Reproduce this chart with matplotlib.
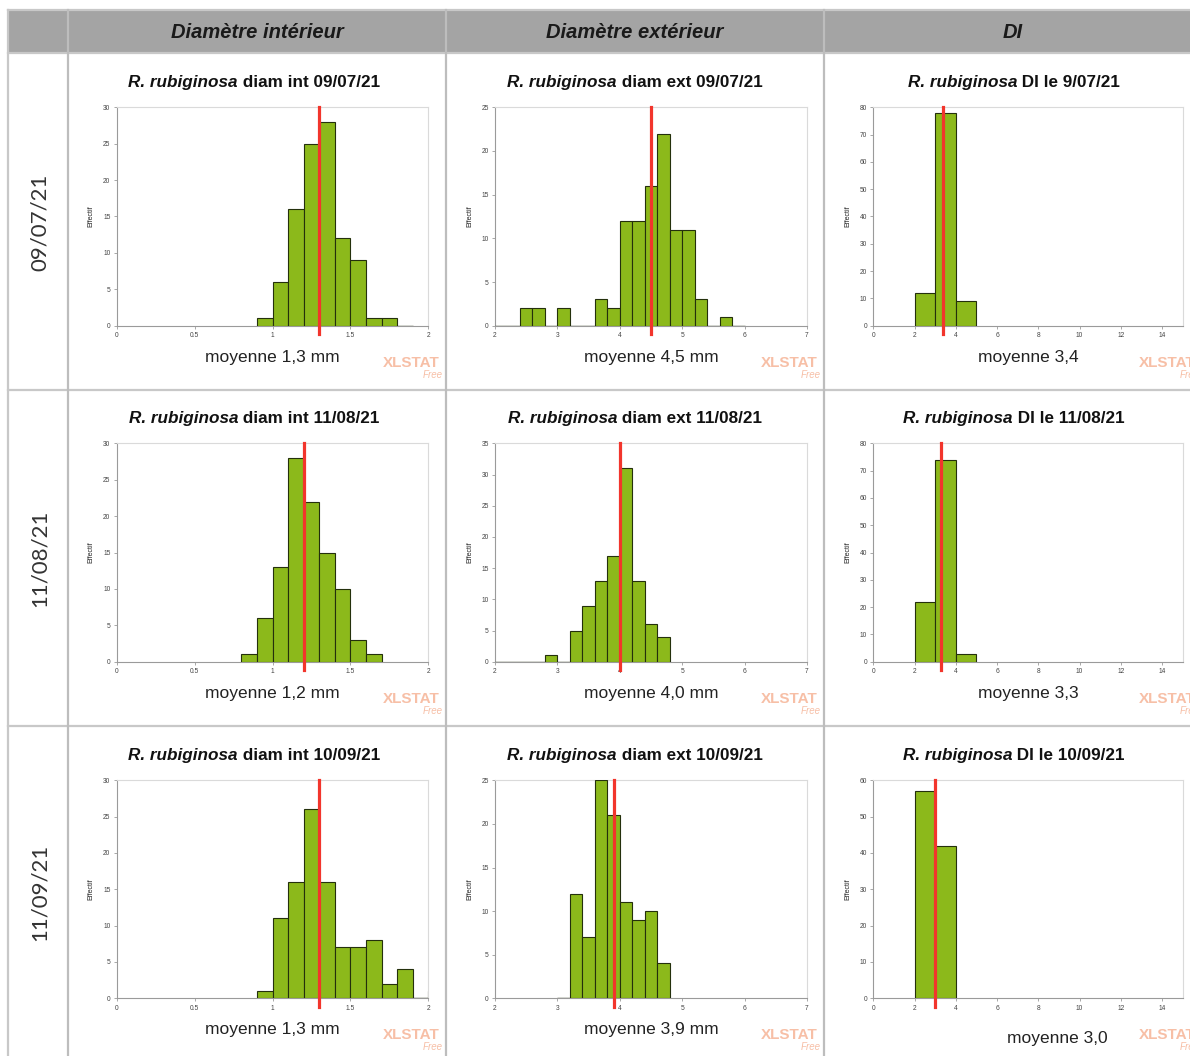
import matplotlib
matplotlib.use("Agg")
import matplotlib.pyplot as plt
from matplotlib.lines import Line2D
from matplotlib.patches import Rectangle
from matplotlib.transforms import Bbox
import numpy as np

# ---------------------------------------------------------------- data
column_headers = ["Diamètre intérieur", "Diamètre extérieur", "DI"]
row_dates = ["09/07/21", "11/08/21", "11/09/21"]

species = "R. rubiginosa"
int_titles = ["diam int 09/07/21", "diam int 11/08/21", "diam int 10/09/21"]
ext_titles = ["diam ext 09/07/21", "diam ext 11/08/21", "diam ext 10/09/21"]
di_titles = ["DI le 9/07/21", "DI le 11/08/21", "DI le 10/09/21"]

# inner diameter (mm), classes of 0.1 mm
int_bin_width = 0.1
int_first_edge = [0.9, 0.8, 0.9]
int_counts_0907 = [1, 6, 16, 25, 28, 12, 9, 1, 1, 0]
int_counts_1108 = [1, 6, 13, 28, 22, 15, 10, 3, 1]
int_counts_1009 = [1, 11, 16, 26, 16, 7, 7, 8, 2, 4, 0, 1]
int_means = [1.3, 1.2, 1.3]
int_ymax = [30, 30, 30]

# outer diameter (mm), classes of 0.2 mm
ext_bin_width = 0.2
ext_first_edge = [2.0, 2.0, 3.0]
ext_counts_0907 = [0, 0, 2, 2, 0, 2, 0, 0, 3, 2, 12, 12, 16, 22, 11, 11, 3, 0, 1, 0]
ext_counts_1108 = [0, 0, 0, 0, 1, 0, 5, 9, 13, 17, 31, 13, 6, 4]
ext_counts_1009 = [0, 12, 7, 25, 21, 11, 9, 10, 4]
ext_means = [4.5, 4.0, 3.9]
ext_ymax = [25, 35, 25]

# DI, classes of 1
di_bin_width = 1.0
di_first_edge = [2.0, 2.0, 2.0]
di_counts_0907 = [12, 78, 9]
di_counts_1108 = [22, 74, 3]
di_counts_1009 = [57, 42]
di_means = [3.4, 3.3, 3.0]
di_ymax = [80, 80, 60]

# ---------------------------------------------------------------- layout
W, H = 1190, 1056
fig = plt.figure(figsize=(W / 100, H / 100), dpi=100)
fig.patch.set_facecolor("white")
plt.rcParams["font.family"] = ["Liberation Sans", "DejaVu Sans"]

GREEN = "#8cb91b"
EDGE = "#24300c"
RED = "#f2352c"
GRID = "#c8c8c8"
WATER = "#f7bfa6"


def fx(px):
    return px / W


def fy(py):
    return 1 - py / H


# table: header band and cell borders
fig.add_artist(Rectangle((fx(8), fy(53)), fx(1190) - fx(8), fy(10) - fy(53),
                         transform=fig.transFigure, facecolor="#a4a4a4",
                         edgecolor="none", zorder=0))
for ypx in (10, 53, 390, 726):
    fig.add_artist(Line2D([fx(8), 1], [fy(ypx), fy(ypx)], transform=fig.transFigure,
                          color=GRID, lw=1.6, zorder=1))
for xpx in (8, 68, 446, 824):
    c = "#bdbdbd" if xpx != 8 else GRID
    fig.add_artist(Line2D([fx(xpx), fx(xpx)], [fy(10), 0], transform=fig.transFigure,
                          color=c, lw=1.6, zorder=1))

header_cx = [257, 635, 1013]
for cx, txt in zip(header_cx, column_headers):
    fig.text(fx(cx), fy(33), txt, ha="center", va="center", fontsize=14.5,
             style="italic", weight="bold", color="#1a1a1a")

row_center_y = [222, 558, 892]
for cy, txt in zip(row_center_y, row_dates):
    fig.text(fx(40), fy(cy), txt, rotation=90, ha="center", va="center",
             fontsize=16, family=["Lato", "DejaVu Sans"], weight="normal",
             color="#333333")

# axes geometry (pixels)
cols_left = [116.7, 495.0, 873.3]
cols_width = [311.6, 312.0, 309.4]
rows_top = [107.3, 443.3, 780.3]
rows_height = [218.4, 218.4, 218.0]
title_cx = [254, 635, 1014]

renderer = fig.canvas.get_renderer()


def mixed_title(cx, cy, italic_part, rest):
    t1 = fig.text(0, fy(cy), italic_part, ha="left", va="center", fontsize=12.3,
                  style="italic", weight="bold", color="#111111")
    t2 = fig.text(0, fy(cy), " " + rest, ha="left", va="center", fontsize=12.3,
                  weight="bold", color="#111111")
    w1 = t1.get_window_extent(renderer).width
    w2 = t2.get_window_extent(renderer).width
    left = cx - (w1 + w2) / 2
    t1.set_x(fx(left))
    t2.set_x(fx(left + w1))


def histogram(col, row, first_edge, width, counts, mean, ymax, xlim, xticks,
              xticklabels, yticks, title, unit):
    left, w = cols_left[col], cols_width[col]
    top, h = rows_top[row], rows_height[row]
    ax = fig.add_axes([fx(left), fy(top + h), w / W, h / H])
    counts = np.asarray(counts, dtype=float)
    edges = first_edge + width * np.arange(len(counts))
    ax.bar(edges, counts, width=width, align="edge", color=GREEN,
           edgecolor=EDGE, linewidth=0.8, zorder=2.7)
    # empty classes are outlined as a dark segment on the baseline
    empty = counts == 0
    if empty.any():
        ax.hlines(np.zeros(empty.sum()), edges[empty], edges[empty] + width,
                  color=EDGE, lw=0.9, zorder=2.8)
    ax.axvline(mean, ymin=-0.04, ymax=1.0, color=RED, lw=2.3, zorder=3, clip_on=False)
    ax.set_xlim(*xlim)
    ax.set_ylim(0, ymax)
    ax.set_xticks(xticks)
    ax.set_xticklabels(xticklabels)
    ax.set_yticks(yticks)
    ax.tick_params(direction="out", length=2.5, width=0.6, colors="#9a9a9a",
                   labelsize=4.8, labelcolor="#444444", pad=2)
    for side in ("left", "bottom"):
        ax.spines[side].set_color("#9a9a9a")
        ax.spines[side].set_linewidth(0.8)
    for side in ("top", "right"):
        ax.spines[side].set_color("#dadada")
        ax.spines[side].set_linewidth(0.8)
    ax.set_ylabel("Effectif", fontsize=5, color="#222222", labelpad=6)

    # caption under the axis with the mean value
    label = f"moyenne {mean:.1f}".replace(".", ",") + (f" {unit}" if unit else "")
    dx, dy = (29, 40) if (col == 2 and row == 2) else (0, 31.5)
    fig.text(fx(left + w / 2 + dx), fy(top + h + dy), label, ha="center",
             va="center", fontsize=12.5, color="#222222")

    # software watermark
    fig.text(fx(left + 266), fy(top + h + 37), "XLSTAT", ha="left", va="center",
             fontsize=11, weight="bold", color=WATER)
    free = fig.text(fx(left + 326), fy(top + h + 49), "Free", ha="right",
                    va="center", fontsize=7, style="italic", color=WATER)
    free.set_clip_on(True)
    free.set_clip_box(Bbox.from_extents(0, H - (top + h + 52), W, H))

    mixed_title(title_cx[col], top - 25, species, title)
    return ax


int_counts = [int_counts_0907, int_counts_1108, int_counts_1009]
ext_counts = [ext_counts_0907, ext_counts_1108, ext_counts_1009]
di_counts = [di_counts_0907, di_counts_1108, di_counts_1009]

for r in range(3):
    histogram(0, r, int_first_edge[r], int_bin_width, int_counts[r], int_means[r],
              int_ymax[r], (0, 2), [0, 0.5, 1, 1.5, 2], ["0", "0.5", "1", "1.5", "2"],
              np.arange(0, int_ymax[r] + 1, 5), int_titles[r], "mm")
    histogram(1, r, ext_first_edge[r], ext_bin_width, ext_counts[r], ext_means[r],
              ext_ymax[r], (2, 7), [2, 3, 4, 5, 6, 7], ["2", "3", "4", "5", "6", "7"],
              np.arange(0, ext_ymax[r] + 1, 5), ext_titles[r], "mm")
    histogram(2, r, di_first_edge[r], di_bin_width, di_counts[r], di_means[r],
              di_ymax[r], (0, 15), list(range(0, 15, 2)),
              [str(v) for v in range(0, 15, 2)],
              np.arange(0, di_ymax[r] + 1, 10), di_titles[r], "")

fig.savefig("out.png", dpi=100)
